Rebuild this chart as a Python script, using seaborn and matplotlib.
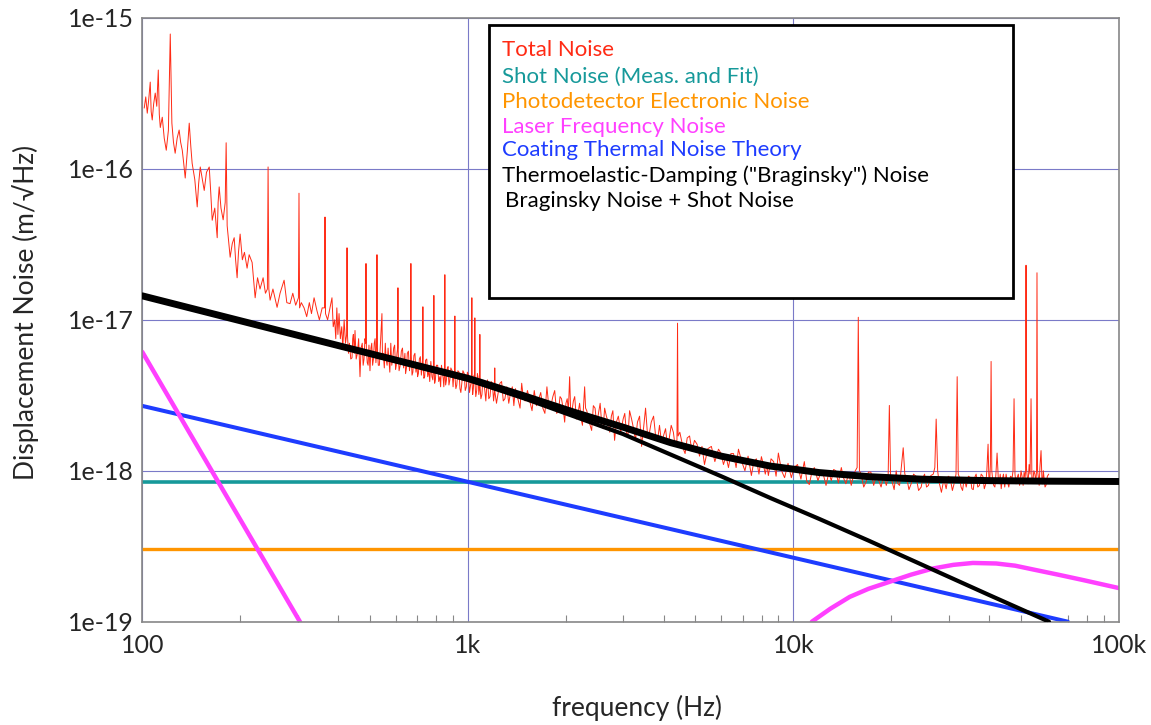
import numpy as np
import pandas as pd
import matplotlib
matplotlib.use('Agg')
import matplotlib.pyplot as plt
import seaborn as sns
from matplotlib.patches import Rectangle
from matplotlib.ticker import FixedLocator, LogLocator, NullLocator, NullFormatter

# all noise values are in units of 1e-18 m/sqrt(Hz)
SCALE = 1e-18

total_100_380 = [
    (101.4, 253), (102.5, 300), (103.6, 234), (104.7, 290), (105.8, 376), (106.5, 240), (107.3, 211),
    (108.4, 270), (109.6, 318), (110.8, 260), (112.0, 452), (112.8, 230), (113.6, 188), (115.2, 220),
    (116.8, 160), (118.5, 133), (120.3, 180), (121.9, 783), (123.3, 201), (124.7, 150), (126.2, 127),
    (128.0, 160), (129.8, 181), (131.2, 150), (132.7, 133), (134.0, 110), (135.5, 87), (137.5, 130),
    (139.4, 201), (141.0, 140), (142.3, 109), (145.0, 85), (147.5, 56), (149.0, 80), (150.7, 103),
    (153.0, 85), (155.0, 72), (157.5, 95), (160.6, 103), (162.3, 70), (164.0, 45.7), (167.0, 55),
    (169.9, 35), (171.0, 60), (172.3, 76), (174.5, 55), (177.2, 46), (179.8, 60), (181.0, 149),
    (182.3, 42), (184.0, 34), (186.2, 26), (189.0, 32), (191.6, 35), (193.5, 25), (195.6, 19),
    (197.5, 28), (199.8, 37), (203.0, 25), (206.0, 28), (209.9, 22), (213.0, 27), (217.5, 24),
    (220.0, 18), (222.2, 14), (226.0, 19), (230.0, 16), (235.1, 19), (239.0, 15), (242.3, 16),
    (243.5, 103), (244.8, 16), (247.0, 13.5), (252.0, 16), (259.5, 12.1), (265.0, 15), (272.7, 18.3),
    (278.0, 13), (284.4, 12.8), (290.0, 15), (296.0, 12.5), (301.8, 14), (303.0, 69), (304.3, 12),
    (308.0, 13), (314.1, 12), (320.0, 10.5), (326.0, 13), (331.0, 11), (337.1, 14), (344.0, 11.5),
    (350.0, 10), (357.0, 12), (363.0, 12), (364.2, 48), (365.5, 11), (371.0, 10), (377.4, 12)]
total_380_1k = [
    (382.6, 14), (386, 9), (390, 10), (393, 7.5), (396, 12), (399, 8), (402.2, 11), (406, 7.5),
    (410, 9), (413, 6.5), (417, 10), (421, 7), (424.5, 8), (425.6, 30), (426.8, 8), (430, 6),
    (433, 7), (437, 5.5), (440.9, 5.6), (443, 7.5), (445, 8), (448, 6), (450.3, 8.5), (454, 5.5),
    (458, 6), (462, 7.5), (466.5, 4.2), (470, 6.5), (474, 7), (477, 5), (480, 5.5), (483, 7.5),
    (485.5, 7), (486.7, 23.6), (488, 6.5), (491, 5.2), (494, 5), (497, 6.8), (500.6, 4.6), (504, 6.5),
    (507, 7), (510, 5), (513, 5.5), (516, 7), (519, 7.5), (522, 5.2), (524.8, 6), (526, 27),
    (527.3, 6.5), (531, 5), (535, 5), (539, 7), (544.8, 11), (547, 5.5), (550, 6), (554, 4.8),
    (558, 7), (561, 5.5), (565, 5), (569, 6.5), (572.5, 5.4), (576, 4.5), (580, 7), (584, 5),
    (588, 5.5), (592, 6.5), (596, 6.8), (600, 4.7), (603, 5), (606, 6), (608.8, 6.5), (610.1, 16.3),
    (611.4, 6), (615, 4.6), (620, 5), (625, 6.2), (630, 6.5), (635, 4.8), (640.9, 6), (644, 4.4),
    (648, 4.8), (652, 6), (657, 6.2), (662, 4.6), (667.3, 5.5), (668.6, 23.6), (670, 5.8), (674, 4.3),
    (678, 4.5), (683, 5.8), (688, 6), (693, 4.5), (697.6, 5.2), (701, 4.2), (705, 4.4), (710, 5.5),
    (715, 5.7), (720, 4.3), (726.5, 5.5), (727.8, 12.2), (729.1, 5), (733, 4.1), (737, 4.2),
    (742, 5.4), (748, 5.5), (753, 4.2), (759.3, 4.6), (764, 3.9), (770, 5.3), (776, 4.2), (781, 4.0),
    (785.3, 5), (786.6, 14.5), (788, 4.8), (791, 3.8), (795, 4.0), (801, 5.0), (808, 5), (814, 3.9),
    (820.6, 4.2), (825, 3.6), (830, 5), (835, 4.5), (840, 4.1), (844, 3.6), (848.8, 4.7),
    (850.1, 19.9), (851.4, 4.5), (855, 3.7), (860, 4.0), (865, 4.8), (870, 4.9), (875, 3.7),
    (880.7, 4.0), (887, 4.8), (895, 4.6), (901, 3.6), (906, 4.4), (911.2, 4.3), (912.5, 10.6),
    (913.8, 4.1), (919, 3.5), (925, 3.7), (932, 4.6), (940, 4.5), (946, 3.5), (952, 3.3),
    (958.5, 3.8), (966, 4.6), (975, 4.4), (982, 3.4), (990, 3.6), (997, 4.5)]
total_1k_2k = [
    (1005, 4.3), (1012, 3.3), (1020, 3.7), (1027.5, 4.0), (1029, 14), (1030.5, 3.9), (1035, 3.2),
    (1040, 3.5), (1045, 4.3), (1049.5, 3.8), (1051, 10.3), (1052.5, 3.8), (1058, 3.1), (1065, 3.4),
    (1070, 4.4), (1075, 4.2), (1081, 3.2), (1087.5, 3.6), (1089, 8), (1090.5, 3.6), (1097, 3.0),
    (1105, 3.2), (1112, 4.0), (1120, 3.8), (1128, 3.4), (1136, 2.9), (1143, 3.6), (1150, 4.0),
    (1160, 3.0), (1170, 3.1), (1180, 3.9), (1190, 3.8), (1200, 2.9), (1208.5, 3.4), (1210, 4.8),
    (1212, 3.3), (1225, 2.8), (1240, 3.3), (1255, 3.8), (1270, 3.9), (1285, 2.9), (1300, 3.0),
    (1318, 3.6), (1336, 2.8), (1353, 3.3), (1370, 3.6), (1385, 2.7), (1400, 3.5), (1415, 3.2),
    (1430, 2.9), (1447, 2.6), (1464, 3.8), (1482, 3.0), (1500, 2.9), (1525, 3.4), (1550, 2.9),
    (1575, 2.5), (1600, 3.4), (1625, 2.7), (1651, 2.97), (1675, 3.3), (1700, 2.6), (1725, 2.4),
    (1750, 3.6), (1775, 2.6), (1800, 2.7), (1825, 3.1), (1849, 3.4), (1875, 2.4), (1900, 2.5),
    (1920, 3.1), (1940, 3.0), (1962, 2.6), (1984, 2.1), (2002, 2.8), (2020, 3.0), (2037, 2.5),
    (2055, 4.2), (2072, 2.3)]
total_2k_10k = [
    (2090, 2.5), (2110, 2.9), (2130, 3.1), (2155, 2.2), (2180, 2.4), (2205, 2.8), (2230, 2.2),
    (2250, 2.0), (2270, 2.8), (2285, 3.6), (2300, 2.6), (2320, 2.5), (2360, 2.1), (2401, 1.85),
    (2430, 2.7), (2460, 2.6), (2490, 2.0), (2520, 2.4), (2550, 2.8), (2580, 2.0), (2605, 1.9),
    (2632, 2.6), (2665, 2.3), (2700, 2.1), (2730, 1.8), (2760, 2.3), (2790, 2.5), (2824, 1.59),
    (2860, 2.1), (2900, 2.3), (2950, 1.8), (3000, 2.2), (3035, 2.4), (3070, 1.8), (3105, 1.7),
    (3140, 2.5), (3185, 2.2), (3230, 1.9), (3275, 1.6), (3320, 2.1), (3370, 2.3), (3418, 1.45),
    (3465, 1.9), (3516, 2.6), (3560, 1.8), (3600, 1.7), (3660, 2.1), (3721, 2.3), (3775, 1.7),
    (3830, 1.6), (3880, 2.0), (3936, 1.54), (3990, 1.7), (4050, 1.9), (4100, 1.5), (4150, 1.6),
    (4215, 2.0), (4280, 1.8), (4335, 1.45), (4390, 1.6), (4408, 9.5), (4425, 1.7), (4480, 1.8),
    (4533, 1.59), (4590, 1.4), (4650, 1.3), (4720, 1.65), (4800, 1.7), (4880, 1.35), (4970, 1.59),
    (5060, 1.5), (5150, 1.25), (5240, 1.45), (5334, 1.1), (5460, 1.4), (5600, 1.45), (5740, 1.15),
    (5889, 1.39), (6000, 1.3), (6100, 1.1), (6210, 1.25), (6320, 1.05), (6430, 1.3), (6550, 1.3),
    (6670, 1.05), (6783, 1.39), (6940, 1.15), (7100, 1.0), (7260, 1.25), (7432, 0.93), (7560, 1.15),
    (7700, 1.2), (7840, 0.95), (7978, 1.24), (8090, 1.1), (8200, 0.95), (8290, 1.1), (8381, 0.93),
    (8540, 1.2), (8700, 1.15), (8850, 0.92), (8995, 1.31), (9200, 1.0), (9400, 0.9), (9630, 1.12),
    (9859, 0.9)]
total_10k_61k = [
    (10050, 1.05), (10300, 1.1), (10550, 0.88), (10807, 1.15), (11000, 0.85), (11196, 0.81),
    (11400, 0.98), (11600, 1.05), (11900, 0.86), (12190, 1.0), (12400, 0.92), (12600, 0.8),
    (12850, 0.97), (13080, 0.86), (13300, 1.02), (13500, 1.0), (13750, 0.83), (14040, 1.05),
    (14250, 0.9), (14500, 0.82), (14800, 0.97), (15060, 0.8), (15300, 0.93), (15500, 1.0),
    (15700, 1.05), (15830, 10.4), (15960, 1.0), (16150, 0.95), (16450, 0.78), (16750, 0.85),
    (17000, 0.98), (17300, 0.98), (17650, 0.8), (17970, 0.92), (18300, 0.86), (18600, 0.78),
    (18950, 0.93), (19300, 0.8), (19550, 0.9), (19720, 2.71), (19900, 0.88), (20100, 0.85),
    (20400, 0.75), (20700, 1.0), (20950, 0.82), (21200, 0.8), (21500, 1.1), (21750, 1.42),
    (22000, 0.95), (22300, 0.9), (22650, 0.75), (23010, 0.82), (23400, 0.95), (23800, 0.92),
    (24250, 0.74), (24700, 0.78), (25000, 0.9), (25300, 0.95), (25650, 0.78), (26000, 0.8),
    (26450, 0.93), (26900, 0.95), (27200, 1.05), (27460, 2.2), (27750, 1.0), (28000, 0.85),
    (28250, 0.78), (28500, 0.72), (29000, 0.88), (29470, 0.76), (29900, 0.92), (30300, 0.9),
    (30800, 0.74), (31300, 0.85), (31600, 0.95), (31860, 4.2), (32100, 0.95), (32400, 0.9),
    (32750, 0.78), (33100, 0.74), (33500, 0.9), (33960, 0.78), (34500, 0.92), (35000, 0.9),
    (35350, 0.76), (35700, 0.75), (36050, 0.9), (36430, 0.95), (36850, 0.78), (37300, 0.8),
    (37750, 0.95), (38200, 0.92), (38600, 0.76), (39000, 0.82), (39300, 1.0), (39640, 1.5),
    (39870, 0.9), (40100, 0.85), (40300, 1.1), (40500, 5.3), (40700, 1.0), (40900, 0.9),
    (41250, 0.8), (41600, 0.78), (41900, 0.95), (42250, 1.31), (42600, 0.9), (42900, 0.82),
    (43200, 0.95), (43500, 0.76), (43850, 0.88), (44200, 0.95), (44600, 0.78), (45030, 0.95),
    (45450, 0.85), (45900, 0.78), (46450, 0.92), (47000, 0.9), (47300, 1.0), (47640, 3.0),
    (47950, 0.95), (48300, 0.82), (48700, 0.9), (49100, 0.95), (49550, 0.8), (50050, 1.0),
    (50400, 0.92), (50800, 0.8), (51150, 0.98), (51500, 0.9), (51700, 1.0), (51850, 23),
    (52000, 1.05), (52200, 0.95), (52600, 0.82), (53000, 1.1), (53350, 0.95), (53720, 3.0),
    (54050, 0.9), (54400, 0.85), (54800, 1.0), (55200, 0.95), (55600, 0.85), (55850, 1.0),
    (56030, 20.5), (56250, 1.0), (56600, 0.9), (56900, 0.8), (57200, 1.05), (57660, 1.36),
    (58000, 0.9), (58300, 0.82), (58600, 1.0), (58890, 0.9), (59300, 0.78), (59700, 0.8),
    (60300, 0.92), (60880, 0.95)]

# theory curves
shot_f = [100, 100000]
shot_v = [0.847, 0.847]
pd_f = [100, 100000]
pd_v = [0.302, 0.302]
laser_lo_f = [100, 305]
laser_lo_v = [6.13, 0.10]
laser_hi_f = [11400, 13000, 14900, 17000, 19790, 23000, 26820, 31000, 35600, 42000, 48000, 54400,
              65000, 77400, 100000]
laser_hi_v = [0.10, 0.122, 0.146, 0.165, 0.184, 0.205, 0.225, 0.238, 0.245, 0.243, 0.235, 0.222,
              0.205, 0.189, 0.167]
coating_f = [100, 69700]
coating_v = [2.69, 0.10]
brag_f = [100, 300, 1000, 1500, 2100, 3000, 4200, 6000, 8500, 12000, 17000, 25000, 40000, 61000]
brag_v = [14.4, 7.85, 4.01, 3.0, 2.31, 1.75, 1.28, 0.92, 0.66, 0.48, 0.345, 0.237, 0.150, 0.10]
brag_shot_f = [100, 300, 1000, 1500, 2100, 3000, 4200, 6000, 8500, 12000, 17000, 25000, 40000,
               61000, 100000]
brag_shot_v = [14.42, 7.9, 4.10, 3.12, 2.46, 1.944, 1.535, 1.25, 1.074, 0.973, 0.914, 0.879, 0.86,
               0.853, 0.849]

legend_labels = ['Total Noise', 'Shot Noise (Meas. and Fit)', 'Photodetector Electronic Noise',
                 'Laser Frequency Noise', 'Coating Thermal Noise Theory',
                 'Thermoelastic-Damping ("Braginsky") Noise', 'Braginsky Noise + Shot Noise']

x_ticks = [100, 1000, 10000, 100000]
x_ticklabels = ['100', '1k', '10k', '100k']
y_ticks = [1e-19, 1e-18, 1e-17, 1e-16, 1e-15]
y_ticklabels = ['1e-19', '1e-18', '1e-17', '1e-16', '1e-15']

RED = '#ff2a14'
TEAL = '#16999a'
ORANGE = '#ff9500'
MAGENTA = '#ff40ff'
BLUE = '#1e3cff'
BLACK = '#000000'
legend_colors = [RED, TEAL, ORANGE, MAGENTA, BLUE, BLACK, BLACK]

total = pd.DataFrame(total_100_380 + total_380_1k + total_1k_2k + total_2k_10k + total_10k_61k,
                     columns=['freq', 'noise'])

sns.set_style('white')
plt.rcParams['font.family'] = ['Lato', 'DejaVu Sans']

fig, ax = plt.subplots(figsize=(11.51, 7.25), dpi=100)
fig.subplots_adjust(left=0.1236, right=0.9721, bottom=0.1425, top=0.9752)


def draw(f, v, color, lw, z):
    sns.lineplot(x=np.asarray(f), y=np.asarray(v) * SCALE, color=color, lw=lw, ax=ax,
                 estimator=None, sort=False, zorder=z)


draw(shot_f, shot_v, TEAL, 2.6, 2)
draw(pd_f, pd_v, ORANGE, 2.4, 2)
draw(coating_f, coating_v, BLUE, 2.9, 2)
draw(laser_lo_f, laser_lo_v, MAGENTA, 3.2, 2)
draw(laser_hi_f, laser_hi_v, MAGENTA, 3.2, 2)
draw(total['freq'], total['noise'], RED, 0.7, 3)
draw(brag_f, brag_v, BLACK, 3.0, 4)
draw(brag_shot_f, brag_shot_v, BLACK, 5.0, 4)

ax.set_xscale('log')
ax.set_yscale('log')
ax.set_xlim(100, 100000)
ax.set_ylim(1e-19, 1e-15)

ax.xaxis.set_major_locator(FixedLocator(x_ticks))
ax.set_xticklabels(x_ticklabels)
ax.xaxis.set_minor_locator(LogLocator(base=10, subs=np.arange(2, 10)))
ax.xaxis.set_minor_formatter(NullFormatter())
ax.yaxis.set_major_locator(FixedLocator(y_ticks))
ax.set_yticklabels(y_ticklabels)
ax.yaxis.set_minor_locator(NullLocator())

ax.tick_params(axis='x', which='major', length=0, pad=9, labelsize=18)
ax.tick_params(axis='x', which='minor', direction='in', length=5, width=0.8, color='#888888',
               bottom=True, top=False)
ax.tick_params(axis='y', which='major', length=0, pad=6, labelsize=18)

ax.grid(True, which='major', color='#7a7ac8', lw=0.8)
ax.set_axisbelow(True)
for s in ax.spines.values():
    s.set_color('#888888')
    s.set_linewidth(1.2)

ax.set_xlabel('frequency (Hz)', fontsize=19)
ax.set_ylabel('Displacement Noise (m/\u221aHz)', fontsize=19)
ax.xaxis.set_label_coords(0.5066, -0.143)
ax.xaxis.label.set_va('center')
ax.yaxis.set_label_coords(-0.12, 0.513)
ax.yaxis.label.set_va('center')

# legend box with coloured text only
ax.add_patch(Rectangle((0.3555, 0.5362), 0.5365, 0.4522, transform=ax.transAxes,
                       facecolor='white', edgecolor='black', lw=2, zorder=6))
baselines = [0.9371, 0.8918, 0.8509, 0.8100, 0.7714, 0.7288, 0.6874]
for i, (lab, col) in enumerate(zip(legend_labels, legend_colors)):
    x0 = 0.3712 if i == 6 else 0.3687
    ax.text(x0, baselines[i], lab, color=col, fontsize=16, va='baseline', ha='left',
            transform=ax.transAxes, zorder=7)

fig.savefig('out.png', dpi=100)
